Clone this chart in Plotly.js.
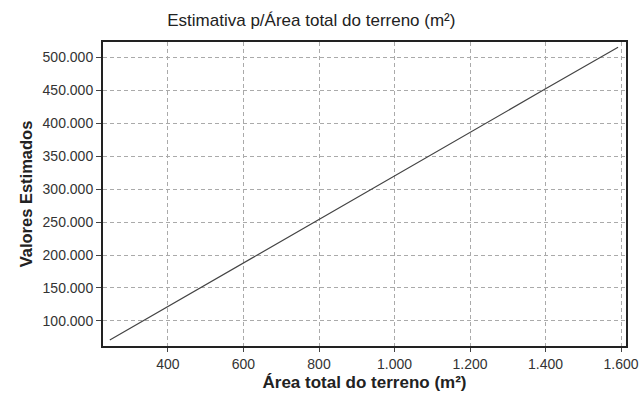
<!DOCTYPE html>
<html><head><meta charset="utf-8">
<script src="https://cdn.plot.ly/plotly-3.0.1.min.js"></script>
<style>html,body{margin:0;padding:0;background:#fff}#c{width:642px;height:403px}</style>
</head><body><div id="c"></div>
<script>
const areaX = [246, 400, 600, 800, 1000, 1200, 1400, 1592];
const estimados = [71000, 122000, 188000, 254000, 320000, 386000, 452000, 515000];
const xTicks = [400, 600, 800, 1000, 1200, 1400, 1600];
const yTicks = [100000, 150000, 200000, 250000, 300000, 350000, 400000, 450000, 500000];
const F = "'Liberation Sans Narrow', 'Arial Narrow', 'Liberation Sans', Arial, sans-serif";
Plotly.newPlot('c', [{
  x: areaX, y: estimados, type: 'scatter', mode: 'lines',
  line: {color: '#444', width: 1.2}, hoverinfo: 'skip'
}], {
  width: 642, height: 403,
  margin: {l: 103, r: 16, t: 42, b: 57},
  paper_bgcolor: '#fff', plot_bgcolor: '#fff',
  separators: ',.',
  showlegend: false,
  font: {family: F, color: '#222', size: 14},
  title: {text: 'Estimativa p/Área total do terreno (m²)', x: 0.485, xanchor: 'center', y: 0.95, yanchor: 'middle', font: {family: F, size: 17, color: '#222'}},
  xaxis: {
    range: [228, 1613], tickvals: xTicks, tickformat: ',d',
    showline: true, linecolor: '#222', linewidth: 2, mirror: true,
    showgrid: true, gridcolor: '#aaa', griddash: '4px,3px', gridwidth: 1,
    ticks: 'outside', ticklen: 4, tickcolor: '#444',
    tickfont: {family: F, size: 14, color: '#333'}, zeroline: false,
    title: {text: '<b>Área total do terreno (m²)</b>', standoff: 5, font: {family: F, size: 17, color: '#222'}}
  },
  yaxis: {
    range: [62000, 523000], tickvals: yTicks,
    ticktext: yTicks.map(v => (v/1000).toFixed(0) + '.000'),
    tickmode: 'array',
    showline: true, linecolor: '#222', linewidth: 2, mirror: true,
    showgrid: true, gridcolor: '#aaa', griddash: '4px,3px', gridwidth: 1,
    ticks: 'outside', ticklen: 5, tickcolor: '#444',
    tickfont: {family: F, size: 14, color: '#333'}, zeroline: false,
    title: {text: '<b>Valores Estimados</b>', standoff: 6, font: {family: F, size: 16.5, color: '#222'}}
  }
}, {staticPlot: true});
</script></body></html>
